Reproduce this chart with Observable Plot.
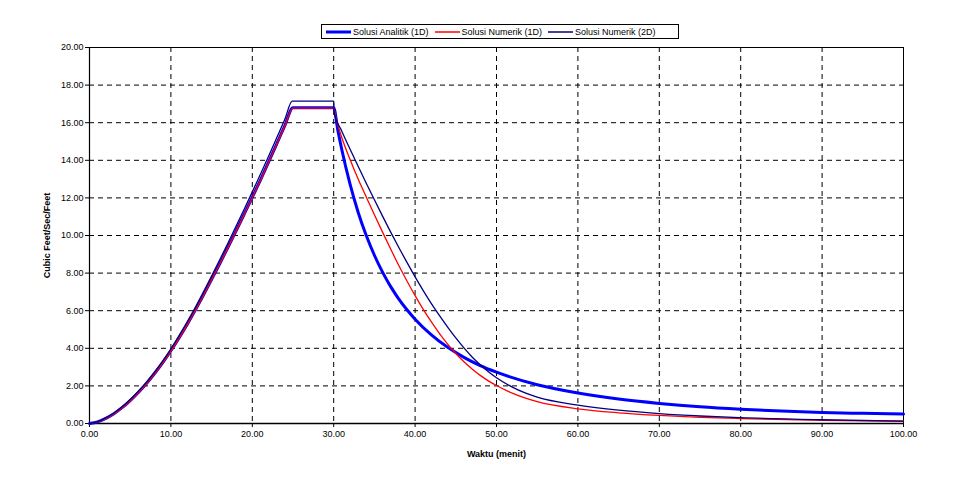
<!DOCTYPE html>
<html>
<head>
<meta charset="utf-8">
<script src="https://cdn.jsdelivr.net/npm/d3@7"></script>
<script src="https://cdn.jsdelivr.net/npm/@observablehq/plot@0.6"></script>
<style>
  html, body { margin: 0; padding: 0; background: #fff; }
  #wrap { position: relative; width: 955px; height: 482px; font-family: "Liberation Sans", Arial, sans-serif; }
  #legend { position: absolute; left: 321px; top: 24px; width: 358px; height: 15px; border: 1px solid #000; box-sizing: border-box;
            display: flex; align-items: center; font-size: 9px; color: #000; background: #fff; padding-left: 4px; }
  #legend .item { display: flex; align-items: center; margin-right: 6px; white-space: nowrap; }
  #legend svg { margin-right: 2px; }
  svg [aria-label="x-axis label"], svg [aria-label="y-axis label"] { font-weight: bold; }
</style>
</head>
<body>
<div id="wrap"><div id="chart"></div><div id="legend"></div></div>
<script>
// ---- data ----
const seriesNames = ["Solusi Analitik (1D)", "Solusi Numerik (1D)", "Solusi Numerik (2D)"];
const seriesColors = ["#0000ff", "#ff0000", "#000080"];

const analitikT = [0,1,2,3,4,5,6,7,8,9,10,11,12,13,14,15,16,17,18,19,20,21,22,23,24,25,
                   30,30.5,31,32,33,34,35,36,37,38,39,40,42,44,46,48,50,55,60,65,70,75,80,85,90,95,100];
const analitikQ = [0,0.09,0.27,0.52,0.84,1.22,1.65,2.13,2.66,3.24,3.87,4.55,5.27,6.03,6.83,7.66,8.5,9.36,10.24,11.13,12.03,12.95,13.9,14.87,15.85,16.8,
                   16.8,15.62,14.56,12.74,11.24,10.0,8.95,8.05,7.28,6.62,6.05,5.55,4.71,4.05,3.52,3.08,2.73,2.06,1.62,1.3,1.07,0.89,0.76,0.66,0.59,0.54,0.5];

const numerik1dT = [0,1,2,3,4,5,6,7,8,9,10,11,12,13,14,15,16,17,18,19,20,21,22,23,24,25,
                    30,30.3,31,32,33,34,35,36,37,38,39,40,41,42,43,44,45,46,47,48,49,50,52,55,60,65,70,75,80,90,100];
const numerik1dQ = [0,0.08,0.26,0.51,0.83,1.2,1.63,2.11,2.64,3.22,3.85,4.53,5.25,6.01,6.81,7.64,8.48,9.34,10.22,11.11,12.01,12.93,13.88,14.85,15.83,16.78,
                    16.78,16.2,15.2,14.05,13.0,12.05,11.1,10.18,9.28,8.4,7.58,6.8,6.07,5.4,4.78,4.22,3.72,3.28,2.9,2.56,2.27,2.02,1.6,1.16,0.78,0.57,0.43,0.33,0.26,0.17,0.12];

const numerik2dT = [0,1,2,3,4,5,6,7,8,9,10,11,12,13,14,15,16,17,18,19,20,21,22,23,24,24.9,
                    30,30.05,31,32,33,34,35,36,37,38,39,40,41,42,43,44,45,46,47,48,49,50,52,55,60,65,70,75,80,90,100];
const numerik2dQ = [0,0.1,0.3,0.56,0.89,1.28,1.72,2.2,2.74,3.33,3.97,4.67,5.41,6.18,7.0,7.84,8.71,9.59,10.49,11.4,12.32,13.26,14.22,15.2,16.18,17.15,
                    17.15,16.55,15.55,14.6,13.68,12.78,11.9,11.03,10.18,9.36,8.57,7.8,7.07,6.38,5.74,5.13,4.55,4.02,3.54,3.12,2.75,2.43,1.92,1.4,0.98,0.71,0.53,0.4,0.31,0.2,0.13];

const xTicks = [0,10,20,30,40,50,60,70,80,90,100];
const yTicks = [0,2,4,6,8,10,12,14,16,18,20];

// ---- build tables ----
const toRows = (T, Q) => T.map((t, i) => ({t, q: Q[i]}));
const analitik = toRows(analitikT, analitikQ);
const numerik1d = toRows(numerik1dT, numerik1dQ);
const numerik2d = toRows(numerik2dT, numerik2dQ);

const chart = Plot.plot({
  width: 955,
  height: 482,
  marginTop: 47,
  marginRight: 52,
  marginBottom: 59,
  marginLeft: 89,
  style: {fontFamily: "'Liberation Sans', Arial, sans-serif", fontSize: "9px", background: "#fff", color: "#000", overflow: "visible"},
  x: {domain: [0, 100]},
  y: {domain: [0, 20]},
  marks: [
    Plot.ruleX(xTicks.filter(d => d > 0 && d < 100), {stroke: "#000", strokeWidth: 1, strokeDasharray: "5,4"}),
    Plot.ruleY(yTicks.filter(d => d > 0 && d < 20), {stroke: "#000", strokeWidth: 1, strokeDasharray: "5,4"}),
    Plot.frame({stroke: "#000", strokeWidth: 1}),
    Plot.ruleY([0], {stroke: "#000", strokeWidth: 1.5}),
    Plot.ruleX([0], {stroke: "#000", strokeWidth: 1.2}),
    Plot.axisX({ticks: xTicks, tickFormat: d => d.toFixed(2), tickSize: 4, tickPadding: 3,
                label: "Waktu (menit)", labelAnchor: "center", labelArrow: false, labelOffset: 33}),
    Plot.axisY({ticks: yTicks, tickFormat: d => d.toFixed(2), tickSize: 4, tickPadding: 2,
                label: "Cubic Feet/Sec/Feet", labelAnchor: "center", labelArrow: false, labelOffset: 46}),
    Plot.line(analitik, {x: "t", y: "q", stroke: seriesColors[0], strokeWidth: 3, curve: "monotone-x"}),
    Plot.line(numerik1d, {x: "t", y: "q", stroke: seriesColors[1], strokeWidth: 1.3, curve: "monotone-x"}),
    Plot.line(numerik2d, {x: "t", y: "q", stroke: seriesColors[2], strokeWidth: 1.3, curve: "monotone-x"})
  ]
});
document.getElementById("chart").appendChild(chart);

// ---- legend ----
const legend = document.getElementById("legend");
const widths = [3, 1.5, 1.5];
seriesNames.forEach((name, i) => {
  const item = document.createElement("div");
  item.className = "item";
  item.innerHTML = `<svg width="25" height="6"><line x1="0" x2="25" y1="3" y2="3" stroke="${seriesColors[i]}" stroke-width="${widths[i]}"/></svg><span>${name}</span>`;
  legend.appendChild(item);
});
</script>
</body>
</html>
